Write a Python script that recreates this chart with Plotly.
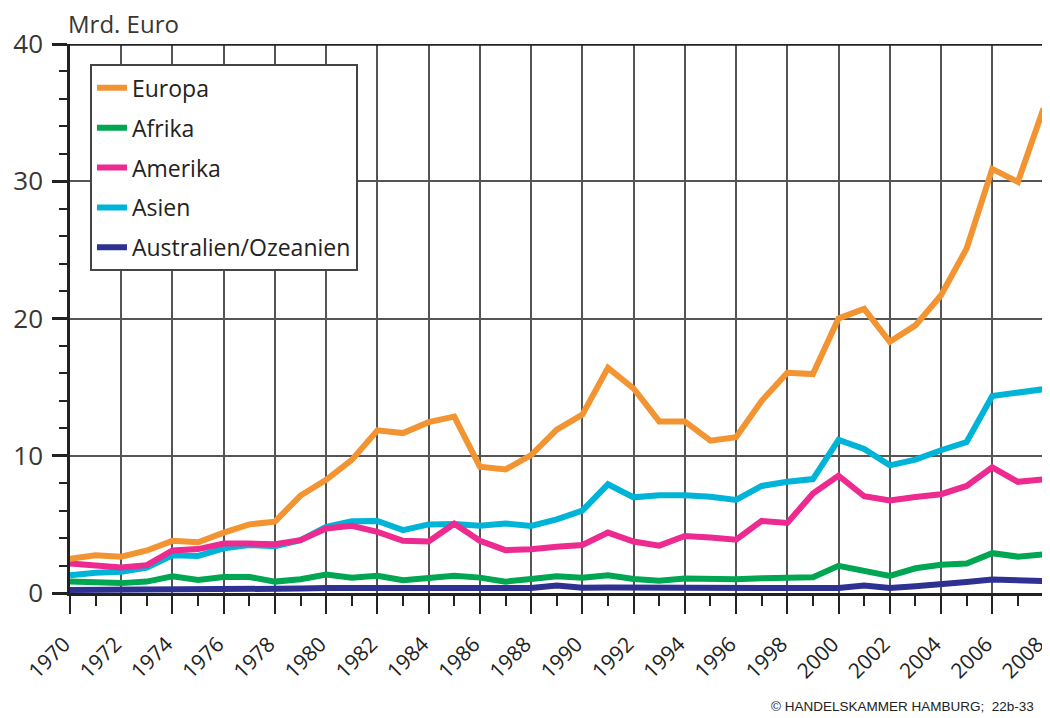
import plotly.graph_objects as go

years = list(range(1970, 2009))

europa = [2.5, 2.75, 2.65, 3.1, 3.8, 3.7, 4.4, 5.0, 5.2, 7.1, 8.25, 9.7, 11.85, 11.65, 12.45, 12.85,
          9.2, 9.0, 10.05, 11.9, 13.0, 16.4, 14.9, 12.5, 12.5, 11.1, 11.35, 14.0, 16.05, 15.95,
          20.0, 20.7, 18.3, 19.5, 21.7, 25.1, 30.9, 29.95, 35.3]
afrika = [0.83, 0.78, 0.72, 0.83, 1.22, 0.95, 1.17, 1.17, 0.83, 1.0, 1.35, 1.12, 1.25, 0.93, 1.05, 1.25,
          1.12, 0.83, 1.02, 1.22, 1.12, 1.3, 1.02, 0.9, 1.05, 1.0, 1.0, 1.08, 1.15, 1.15,
          1.98, 1.6, 1.25, 1.8, 2.05, 2.15, 2.9, 2.65, 2.82]
amerika = [2.15, 2.03, 1.85, 2.03, 3.1, 3.2, 3.6, 3.6, 3.55, 3.85, 4.7, 4.9, 4.45, 3.8, 3.75, 5.05,
           3.8, 3.12, 3.18, 3.37, 3.5, 4.4, 3.75, 3.45, 4.15, 4.05, 3.88, 5.25, 5.1, 7.25,
           8.55, 7.05, 6.75, 7.0, 7.2, 7.8, 9.15, 8.1, 8.28]
asien = [1.3, 1.48, 1.55, 1.85, 2.75, 2.7, 3.25, 3.5, 3.4, 3.85, 4.82, 5.22, 5.25, 4.58, 5.0, 5.02,
         4.9, 5.07, 4.88, 5.37, 6.0, 7.92, 6.97, 7.12, 7.12, 7.02, 6.78, 7.8, 8.1, 8.3,
         11.15, 10.5, 9.3, 9.72, 10.4, 11.0, 14.35, 14.55, 14.85]
australien = [0.22, 0.22, 0.24, 0.26, 0.28, 0.28, 0.3, 0.3, 0.3, 0.32, 0.36, 0.36, 0.4, 0.38, 0.38, 0.4,
              0.38, 0.34, 0.36, 0.55, 0.38, 0.4, 0.4, 0.4, 0.42, 0.45, 0.45, 0.45, 0.45, 0.45,
              0.36, 0.55, 0.36, 0.5, 0.62, 0.8, 0.98, 0.88, 0.88]

# (name, values, colour, legend rank) in drawing order
series = [
    ("Australien/Ozeanien", australien, "#2E3192", 5),
    ("Asien", asien, "#00B4D8", 4),
    ("Amerika", amerika, "#EC2A8F", 3),
    ("Afrika", afrika, "#00A651", 2),
    ("Europa", europa, "#F39433", 1),
]

x_ticks = list(range(1970, 2009, 2))
x_minor = list(range(1971, 2008, 2))
y_ticks = [0, 10, 20, 30, 40]

FONT = "Open Sans"
Y_MAX = 40
PLOT_H = 549  # plot height in px, used to express tick-mark lengths in data units

fig = go.Figure()
for name, vals, col, rank in series:
    fig.add_trace(go.Scatter(x=years, y=vals, mode="lines", name=name,
                             legendgroup=name, legendrank=rank,
                             line=dict(color=col, width=6)))

# explicit tick marks below the x axis (major: even years, minor: odd years)
for xs, length in ((x_ticks, 18), (x_minor, 10)):
    fig.add_trace(go.Scatter(
        x=xs, y=[-(length / 2) * Y_MAX / PLOT_H] * len(xs), mode="markers",
        marker=dict(symbol="line-ns", size=length, color="#222222",
                    line=dict(color="#222222", width=2)),
        showlegend=False, hoverinfo="skip", cliponaxis=False))

# page body has an 8px margin, so the figure is 8px smaller and offset
fig.update_layout(
    width=1042, height=710,
    margin=dict(l=62, r=6, t=36, b=125, autoexpand=False),
    paper_bgcolor="white", plot_bgcolor="white",
    font=dict(family=FONT, color="#333333"),
    showlegend=True,
    legend=dict(x=0.0205, y=0.963, xanchor="left", yanchor="top",
                bgcolor="white", bordercolor="#444444", borderwidth=2,
                font=dict(size=23, color="#222222", family=FONT),
                traceorder="grouped", tracegroupgap=7,
                itemwidth=30),
    xaxis=dict(range=[1970, 2008.02], tickvals=x_ticks, ticktext=[str(v) for v in x_ticks],
               tickangle=-45, tickfont=dict(size=21, color="#222222", family=FONT),
               ticklabeloverflow="allow", ticklabelstandoff=10, ticklabelshift=-6,
               showgrid=True, gridcolor="#555555", gridwidth=1.5,
               ticks="outside", ticklen=18, tickwidth=2, tickcolor="#222222",
               minor=dict(dtick=1, ticks="outside", ticklen=10, tickwidth=2, tickcolor="#222222", showgrid=False),
               showline=True, linecolor="#222222", linewidth=2.5,
               zeroline=False, fixedrange=True, automargin=False),
    yaxis=dict(range=[0, Y_MAX], tickvals=y_ticks, ticktext=[str(v) for v in y_ticks],
               tickfont=dict(size=26, color="#3a3632", family=FONT),
               ticklabelstandoff=4, ticklabeloverflow="allow",
               showgrid=True, gridcolor="#555555", gridwidth=1.5,
               ticks="outside", ticklen=15, tickwidth=2.5, tickcolor="#222222",
               minor=dict(dtick=2, ticks="outside", ticklen=8, tickwidth=2, tickcolor="#222222", showgrid=False),
               showline=True, linecolor="#222222", linewidth=2.5,
               zeroline=False, fixedrange=True, automargin=False),
    annotations=[
        dict(text="Mrd. Euro", xref="paper", yref="paper", x=0, y=1, xanchor="left", yanchor="bottom",
             yshift=2, xshift=-4, showarrow=False, font=dict(size=24, color="#3a3632", family=FONT)),
        dict(text="© HANDELSKAMMER HAMBURG;  22b-33", xref="paper", yref="paper", x=1, y=0,
             xanchor="right", yanchor="bottom", yshift=-123, xshift=-8, showarrow=False,
             font=dict(size=13.5, color="#222222", family="Liberation Sans Narrow, Liberation Sans")),
    ],
    shapes=[
        dict(type="line", xref="paper", yref="y", x0=-0.016, x1=1, y0=40, y1=40,
             line=dict(color="#222222", width=3.5), layer="above"),
        dict(type="line", xref="x", yref="paper", x0=2008, x1=2008, y0=0, y1=1,
             line=dict(color="#222222", width=2.5), layer="above"),
    ],
)

fig.write_html("out.html")
